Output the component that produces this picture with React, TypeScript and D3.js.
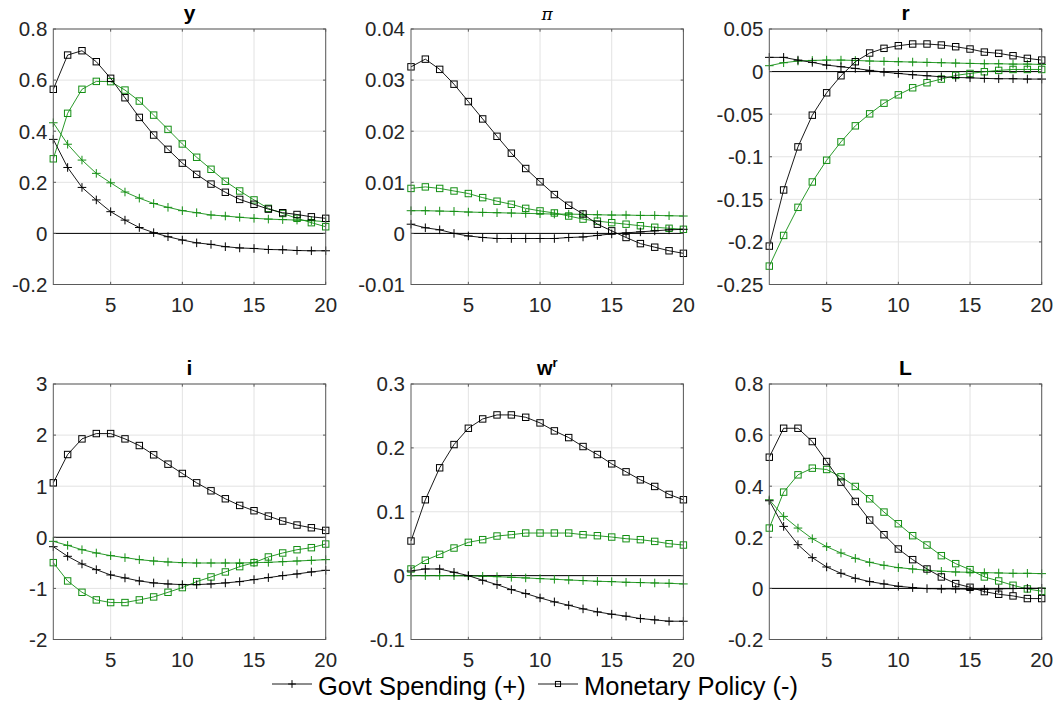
import React from "react";
import * as d3 from "d3";

// Horizon (quarters after the shock)
const periods = [1, 2, 3, 4, 5, 6, 7, 8, 9, 10, 11, 12, 13, 14, 15, 16, 17, 18, 19, 20];
const xTicks = [5, 10, 15, 20];

// Output, y
const yGovBlack = [0.368, 0.258, 0.18, 0.131, 0.085, 0.052, 0.023, 0.003, -0.013, -0.026, -0.037, -0.043, -0.052, -0.057, -0.059, -0.063, -0.064, -0.067, -0.068, -0.068];
const yMonBlack = [0.564, 0.698, 0.715, 0.672, 0.607, 0.531, 0.454, 0.385, 0.329, 0.275, 0.231, 0.193, 0.161, 0.133, 0.114, 0.095, 0.081, 0.074, 0.065, 0.059];
const yGovGreen = [0.433, 0.349, 0.287, 0.235, 0.198, 0.162, 0.138, 0.117, 0.102, 0.089, 0.081, 0.072, 0.068, 0.063, 0.059, 0.056, 0.054, 0.052, 0.05, 0.046];
const yMonGreen = [0.292, 0.47, 0.564, 0.595, 0.594, 0.561, 0.518, 0.463, 0.407, 0.35, 0.298, 0.251, 0.204, 0.166, 0.131, 0.098, 0.078, 0.059, 0.042, 0.026];
const yTicks = [-0.2, 0, 0.2, 0.4, 0.6, 0.8];

// Inflation, pi
const piGovBlack = [0.0018, 0.0011, 0.0007, 0.0, -0.0005, -0.0008, -0.001, -0.001, -0.001, -0.001, -0.001, -0.0008, -0.0007, -0.0004, -0.0001, 0.0001, 0.0003, 0.0005, 0.0007, 0.0008];
const piMonBlack = [0.0326, 0.0341, 0.0321, 0.0292, 0.0258, 0.0224, 0.019, 0.0157, 0.0127, 0.0101, 0.0076, 0.0055, 0.0038, 0.0018, 0.0005, -0.0008, -0.002, -0.0027, -0.0034, -0.0039];
const piGovGreen = [0.00444, 0.00444, 0.00437, 0.00431, 0.00418, 0.00411, 0.00405, 0.00398, 0.00392, 0.00385, 0.00378, 0.00378, 0.00372, 0.00365, 0.00359, 0.00359, 0.00352, 0.00352, 0.00346, 0.0034];
const piMonGreen = [0.0088, 0.0091, 0.0088, 0.0083, 0.0078, 0.007, 0.0063, 0.0057, 0.0049, 0.0044, 0.004, 0.0034, 0.0028, 0.0024, 0.0021, 0.0018, 0.0015, 0.0012, 0.001, 0.0008];
const piTicks = [-0.01, 0, 0.01, 0.02, 0.03, 0.04];

// Real interest rate, r
const rGovBlack = [0.0167, 0.0167, 0.0135, 0.0108, 0.0076, 0.0057, 0.0037, 0.0014, -0.0006, -0.0022, -0.0037, -0.0049, -0.0061, -0.0069, -0.0073, -0.008, -0.0084, -0.0084, -0.0088, -0.0088];
const rMonBlack = [-0.2049, -0.139, -0.0884, -0.0512, -0.0249, -0.0049, 0.0116, 0.0218, 0.0273, 0.0304, 0.0324, 0.0324, 0.0312, 0.0292, 0.0265, 0.0229, 0.0214, 0.0186, 0.0155, 0.0135];
const rGovGreen = [0.0069, 0.0104, 0.0124, 0.0131, 0.0135, 0.0135, 0.0131, 0.0124, 0.012, 0.0116, 0.0112, 0.0108, 0.0104, 0.01, 0.0096, 0.0092, 0.0092, 0.0088, 0.0088, 0.0084];
const rMonGreen = [-0.2284, -0.1924, -0.1594, -0.1296, -0.1041, -0.0825, -0.0637, -0.0496, -0.0371, -0.0273, -0.019, -0.0131, -0.0088, -0.0045, -0.0022, -0.0002, 0.0014, 0.0025, 0.0025, 0.0025];
const rTicks = [-0.25, -0.2, -0.15, -0.1, -0.05, 0, 0.05];

// Nominal interest rate, i
const iGovBlack = [-0.184, -0.372, -0.522, -0.633, -0.737, -0.796, -0.854, -0.893, -0.913, -0.926, -0.926, -0.913, -0.893, -0.867, -0.828, -0.789, -0.75, -0.717, -0.678, -0.646];
const iMonBlack = [1.066, 1.62, 1.926, 2.03, 2.03, 1.926, 1.796, 1.614, 1.431, 1.249, 1.066, 0.91, 0.754, 0.624, 0.52, 0.415, 0.318, 0.24, 0.187, 0.135];
const iGovGreen = [-0.079, -0.158, -0.243, -0.307, -0.359, -0.398, -0.437, -0.464, -0.483, -0.496, -0.503, -0.503, -0.503, -0.503, -0.496, -0.49, -0.477, -0.464, -0.451, -0.437];
const iMonGreen = [-0.496, -0.854, -1.076, -1.225, -1.277, -1.277, -1.225, -1.167, -1.076, -0.984, -0.867, -0.776, -0.678, -0.574, -0.496, -0.385, -0.307, -0.243, -0.203, -0.132];
const iTicks = [-2, -1, 0, 1, 2, 3];

// Real wage, w^r
const wGovBlack = [0.0073, 0.0104, 0.0104, 0.0052, 0.0, -0.0073, -0.0141, -0.0219, -0.0281, -0.0349, -0.0411, -0.0464, -0.0521, -0.0568, -0.0604, -0.0635, -0.0672, -0.0693, -0.0714, -0.0714];
const wMonBlack = [0.0542, 0.1188, 0.1688, 0.2052, 0.2307, 0.2453, 0.2516, 0.2516, 0.2479, 0.2391, 0.2266, 0.2161, 0.2021, 0.1896, 0.175, 0.1625, 0.15, 0.1396, 0.1271, 0.1188];
const wGovGreen = [0.0, 0.0, 0.0, 0.0, -0.0005, -0.001, -0.0016, -0.0026, -0.0036, -0.0047, -0.0057, -0.0068, -0.0078, -0.0089, -0.0094, -0.0104, -0.0109, -0.0115, -0.012, -0.013];
const wMonGreen = [0.0104, 0.024, 0.0333, 0.0432, 0.0521, 0.0563, 0.062, 0.0641, 0.0667, 0.0667, 0.0667, 0.0667, 0.0641, 0.0625, 0.0604, 0.0578, 0.0563, 0.0536, 0.05, 0.0479];
const wTicks = [-0.1, 0, 0.1, 0.2, 0.3];

// Labour, L
const lGovBlack = [0.343, 0.2427, 0.1711, 0.1203, 0.0839, 0.0591, 0.0396, 0.0266, 0.0174, 0.0083, 0.0031, -0.0008, -0.0021, -0.0021, -0.0034, -0.0034, -0.0021, -0.0008, 0.0005, 0.0005];
const lMonBlack = [0.5135, 0.6268, 0.6268, 0.5747, 0.4966, 0.4159, 0.3404, 0.2674, 0.2102, 0.1542, 0.1125, 0.076, 0.0448, 0.0188, 0.0044, -0.0125, -0.0229, -0.0294, -0.0398, -0.0398];
const lGovGreen = [0.3469, 0.2818, 0.2362, 0.1945, 0.1633, 0.1385, 0.1177, 0.1021, 0.0904, 0.0813, 0.076, 0.0708, 0.0669, 0.0643, 0.063, 0.0617, 0.0604, 0.0591, 0.0591, 0.0578];
const lMonGreen = [0.2362, 0.3768, 0.4445, 0.4706, 0.4654, 0.4367, 0.399, 0.3508, 0.2987, 0.2531, 0.2063, 0.1698, 0.1281, 0.0969, 0.0734, 0.0448, 0.0292, 0.0122, -0.0021, -0.0112];
const lTicks = [-0.2, 0, 0.2, 0.4, 0.6, 0.8];

const legendLabels = ["Govt Spending (+)", "Monetary Policy (-)"];

const BLACK = "#000000";
const GREEN = "#138f13";
const AXIS = "#5a5a5a";
const GRID = "#e3e3e3";
const TEXT = "#262626";
const FONT = "'Liberation Sans', Arial, Helvetica, sans-serif";

type Series = { values: number[]; color: string; marker: "plus" | "square" };

type PanelSpec = {
  key: string;
  title: React.ReactNode;
  ticks: number[];
  series: Series[];
};

const panels: PanelSpec[] = [
  {
    key: "y",
    title: <tspan fontWeight="bold">y</tspan>,
    ticks: yTicks,
    series: [
      { values: yMonGreen, color: GREEN, marker: "square" },
      { values: yGovGreen, color: GREEN, marker: "plus" },
      { values: yMonBlack, color: BLACK, marker: "square" },
      { values: yGovBlack, color: BLACK, marker: "plus" },
    ],
  },
  {
    key: "pi",
    title: (
      <tspan fontFamily="'DejaVu Serif', 'Liberation Serif', serif" fontStyle="italic" fontSize={17}>
        π
      </tspan>
    ),
    ticks: piTicks,
    series: [
      { values: piMonGreen, color: GREEN, marker: "square" },
      { values: piGovGreen, color: GREEN, marker: "plus" },
      { values: piMonBlack, color: BLACK, marker: "square" },
      { values: piGovBlack, color: BLACK, marker: "plus" },
    ],
  },
  {
    key: "r",
    title: <tspan fontWeight="bold">r</tspan>,
    ticks: rTicks,
    series: [
      { values: rMonGreen, color: GREEN, marker: "square" },
      { values: rGovGreen, color: GREEN, marker: "plus" },
      { values: rMonBlack, color: BLACK, marker: "square" },
      { values: rGovBlack, color: BLACK, marker: "plus" },
    ],
  },
  {
    key: "i",
    title: <tspan fontWeight="bold">i</tspan>,
    ticks: iTicks,
    series: [
      { values: iMonGreen, color: GREEN, marker: "square" },
      { values: iGovGreen, color: GREEN, marker: "plus" },
      { values: iMonBlack, color: BLACK, marker: "square" },
      { values: iGovBlack, color: BLACK, marker: "plus" },
    ],
  },
  {
    key: "w",
    title: (
      <>
        <tspan fontWeight="bold" fontSize={20}>w</tspan>
        <tspan fontWeight="bold" fontSize={13} dy={-8}>
          r
        </tspan>
      </>
    ),
    ticks: wTicks,
    series: [
      { values: wMonGreen, color: GREEN, marker: "square" },
      { values: wGovGreen, color: GREEN, marker: "plus" },
      { values: wMonBlack, color: BLACK, marker: "square" },
      { values: wGovBlack, color: BLACK, marker: "plus" },
    ],
  },
  {
    key: "L",
    title: <tspan fontWeight="bold">L</tspan>,
    ticks: lTicks,
    series: [
      { values: lMonGreen, color: GREEN, marker: "square" },
      { values: lGovGreen, color: GREEN, marker: "plus" },
      { values: lMonBlack, color: BLACK, marker: "square" },
      { values: lGovBlack, color: BLACK, marker: "plus" },
    ],
  },
];

const WIDTH = 1057;
const HEIGHT = 706;
const colLeft = [53.3, 411, 769.3];
const rowTop = [29, 384];
const plotW = 272.4;
const plotH = 255.5;
const TICK_FONT = 20.5;

// MATLAB-style tick text: shortest decimal, ASCII hyphen for negatives
const fmtTick = (v: number) => {
  const s = String(+v.toFixed(4));
  return s === "-0" ? "0" : s;
};

function Marker({ kind, cx, cy, color, size = 1 }: { kind: "plus" | "square"; cx: number; cy: number; color: string; size?: number }) {
  if (kind === "square") {
    const h = 3.2 * size;
    return <rect x={cx - h} y={cy - h} width={2 * h} height={2 * h} fill="none" stroke={color} strokeWidth={1} />;
  }
  const h = 4.3 * size;
  return (
    <path
      d={`M${cx - h},${cy}H${cx + h}M${cx},${cy - h}V${cy + h}`}
      stroke={color}
      strokeWidth={1}
      fill="none"
    />
  );
}

function Panel({ spec, left, top }: { spec: PanelSpec; left: number; top: number }) {
  const domain = d3.extent(spec.ticks) as [number, number];
  const x = d3.scaleLinear().domain([1, 20]).range([left, left + plotW]);
  const y = d3.scaleLinear().domain(domain).range([top + plotH, top]);
  const line = d3
    .line<number>()
    .x((_, i) => x(periods[i]))
    .y((d) => y(d));
  const right = left + plotW;
  const bottom = top + plotH;
  const tickLen = 2.7;

  return (
    <g>
      {/* grid */}
      {xTicks.map((t) => (
        <line key={`gx${t}`} x1={x(t)} x2={x(t)} y1={top} y2={bottom} stroke={GRID} strokeWidth={1} />
      ))}
      {spec.ticks.map((t) => (
        <line key={`gy${t}`} x1={left} x2={right} y1={y(t)} y2={y(t)} stroke={GRID} strokeWidth={1} />
      ))}

      {/* zero reference */}
      <line x1={x(1)} x2={x(20)} y1={y(0)} y2={y(0)} stroke={BLACK} strokeWidth={1} />

      {/* responses */}
      {spec.series.map((s, si) => (
        <g key={si}>
          <path d={line(s.values) || ""} fill="none" stroke={s.color} strokeWidth={0.9} />
          {s.values.map((v, i) => (
            <Marker key={i} kind={s.marker} cx={x(periods[i])} cy={y(v)} color={s.color} />
          ))}
        </g>
      ))}

      {/* axes box with inward ticks */}
      <rect x={left} y={top} width={plotW} height={plotH} fill="none" stroke={AXIS} strokeWidth={1} />
      {xTicks.map((t) => (
        <g key={`tx${t}`}>
          <line x1={x(t)} x2={x(t)} y1={bottom} y2={bottom - tickLen} stroke={AXIS} />
          <line x1={x(t)} x2={x(t)} y1={top} y2={top + tickLen} stroke={AXIS} />
          <text x={x(t)} y={bottom + 27} textAnchor="middle" fontSize={TICK_FONT} fill={TEXT} fontFamily={FONT}>
            {t}
          </text>
        </g>
      ))}
      {spec.ticks.map((t) => (
        <g key={`ty${t}`}>
          <line x1={left} x2={left + tickLen} y1={y(t)} y2={y(t)} stroke={AXIS} />
          <line x1={right} x2={right - tickLen} y1={y(t)} y2={y(t)} stroke={AXIS} />
          <text x={left - 6} y={y(t)} dy="0.36em" textAnchor="end" fontSize={TICK_FONT} fill={TEXT} fontFamily={FONT}>
            {fmtTick(t)}
          </text>
        </g>
      ))}

      {/* title */}
      <text x={(left + right) / 2} y={top - 9} textAnchor="middle" fontSize={21} fill={BLACK} fontFamily={FONT}>
        {spec.title}
      </text>
    </g>
  );
}

export default function App() {
  const legendY = 684;
  const legendBase = 695;
  return (
    <svg width={WIDTH} height={HEIGHT} style={{ display: "block", position: "absolute", left: 0, top: 0, background: "#fff" }}>
      <rect width={WIDTH} height={HEIGHT} fill="#fff" />
      {panels.map((p, idx) => (
        <Panel key={p.key} spec={p} left={colLeft[idx % 3]} top={rowTop[Math.floor(idx / 3)]} />
      ))}

      {/* legend */}
      <g fontFamily={FONT} fontSize={25.5} fill={BLACK}>
        <line x1={272} x2={312} y1={legendY} y2={legendY} stroke={BLACK} strokeWidth={0.9} />
        <Marker kind="plus" cx={292} cy={legendY} color={BLACK} size={0.9} />
        <text x={318} y={legendBase}>
          {legendLabels[0]}
        </text>
        <line x1={538} x2={578} y1={legendY} y2={legendY} stroke={BLACK} strokeWidth={0.9} />
        <Marker kind="square" cx={558} cy={legendY} color={BLACK} size={0.8} />
        <text x={584} y={legendBase}>
          {legendLabels[1]}
        </text>
      </g>
    </svg>
  );
}
